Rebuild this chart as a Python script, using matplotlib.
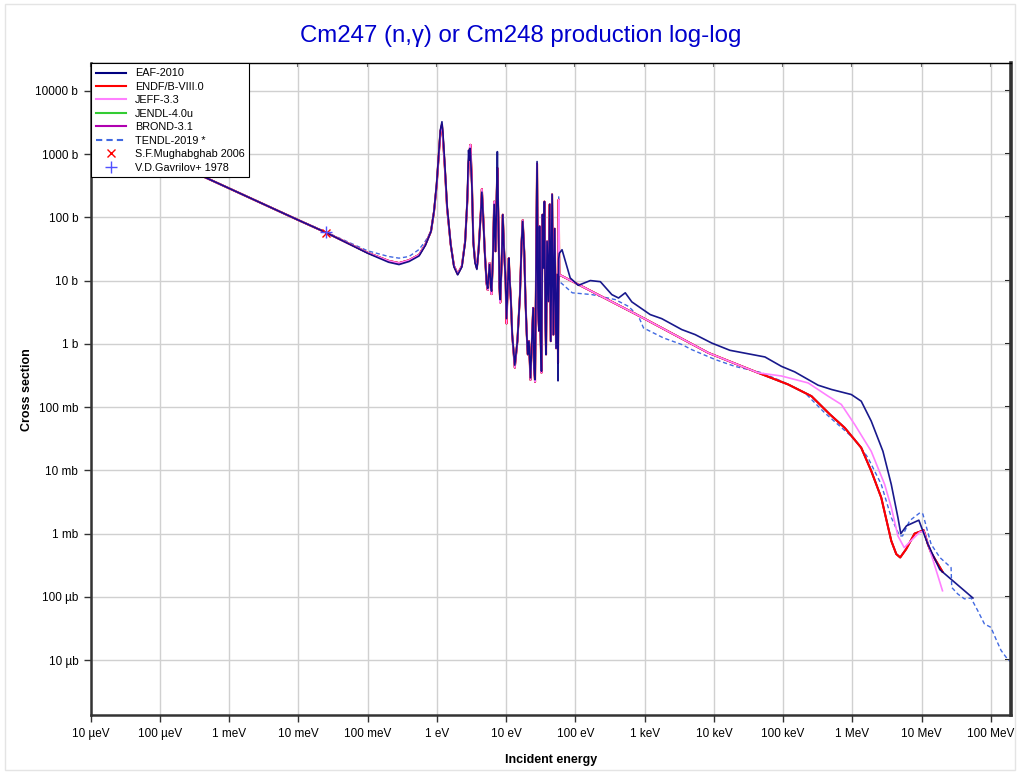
import matplotlib
matplotlib.use('Agg')
import matplotlib.pyplot as plt
import numpy as np

# --- data (energy in eV, cross section in barn) ---

# 1/v region, shared by the evaluations
e_low = [1e-5, 1e-4, 1e-3, 0.01, 0.0253, 0.1, 0.2]
endf_low = [2860, 905, 286, 90, 57, 27.5, 20.5]
eaf_low = [2860, 905, 286, 90, 57, 27, 19.5]

# resolved resonances
e_res = [0.283, 0.395, 0.551, 0.68, 0.82, 0.906, 0.99, 1.07, 1.12, 1.18, 1.22, 1.30, 1.40,
         1.58, 1.76, 1.99, 2.29, 2.55, 2.74, 2.86, 2.93, 3.0, 3.05, 3.2, 3.35, 3.55, 3.77,
         4.0, 4.3, 4.45, 4.6, 4.9, 5.2, 5.4, 5.75, 6.0, 6.14, 6.4, 6.7, 7.0, 7.25, 7.45,
         7.7, 8.0, 8.2, 8.6, 8.93, 9.23, 9.6, 9.8, 10.1, 10.5, 10.9, 11.2, 11.7, 12.2,
         13.3, 14.5, 15.8, 16.7, 17.3, 18.2, 19.0, 19.8, 20.5, 21.3, 22.4, 23.5, 24.5,
         25.3, 26.1, 27.9, 28.8, 29.8, 30.3, 31.3, 32.3, 33.4, 34.8, 35.6, 36.8, 37.6,
         38.9, 40.7, 42.5, 44.0, 46.0, 48.0, 50.2, 52.5, 55.0, 56.0, 57.3, 58.5]
endf_res = [18.9, 21, 25.5, 37, 60, 123, 325, 1090, 2250, 2900, 1770, 600, 140,
            37, 17, 12.7, 17, 41.5, 177, 700, 1000, 1300, 1400, 325, 41.5, 20, 15.8,
            32, 123, 280, 140, 29, 9, 7.1, 18.9, 7.6, 6.1, 20, 177, 29, 177, 600,
            96, 7.6, 4.5, 20, 110, 37, 15.8, 9.7, 2.1, 7.6, 22.6, 11, 4.7, 1.4,
            0.42, 1.1, 6, 41.5, 90, 29, 4.7, 1.4, 0.68, 1.1, 0.27, 1.1, 3.7,
            0.41, 0.25, 700, 3.7, 1.6, 72, 1.4, 0.35, 110, 15.8, 177, 2.5, 0.68,
            41.5, 4.7, 160, 1.1, 230, 1.4, 66, 0.85, 12.5, 0.5, 190, 12.4]
eaf_res = [17.9, 20, 24.5, 36, 60, 125, 340, 1150, 2400, 3240, 2100, 650, 150,
           37, 16.5, 12.3, 16.5, 40, 190, 1150, 800, 1230, 1000, 300, 40, 19, 15,
           31, 120, 250, 130, 28, 9.5, 7.5, 18, 8, 6.8, 20, 160, 29, 170, 1090,
           96, 7.6, 5, 20, 110, 37, 15.8, 9.7, 2.5, 7.6, 22.6, 11, 4.7, 1.4,
           0.46, 1.1, 6, 41.5, 86, 29, 4.7, 1.4, 0.68, 1.1, 0.29, 1.1, 3.7,
           0.41, 0.27, 760, 3.7, 1.6, 72, 1.4, 0.37, 110, 15.8, 177, 2.5, 0.68,
           41.5, 4.7, 160, 1.1, 230, 1.4, 66, 0.85, 12.5, 0.26, 22, 27]

# fast region
e_endf_hi = [908, 8300, 43600, 1.18e5, 2.56e5, 4.71e5, 7.75e5, 1.34e6, 1.87e6, 2.61e6,
             3.64e6, 4.3e6, 4.9e6, 5.98e6, 7.9e6, 1.07e7, 1.23e7, 1.37e7, 2e7]
endf_hi = [2.63, 0.72, 0.348, 0.228, 0.149, 0.077, 0.047, 0.0228, 9.8e-3, 3.7e-3,
           7.7e-4, 4.75e-4, 4.2e-4, 5.7e-4, 1.0e-3, 1.13e-3, 6.8e-4, 5.0e-4, 2.5e-4]

e_jeff_hi = [9.46e4, 2.29e5, 4.45e5, 6.92e5, 1.08e6, 1.87e6, 2.92e6, 3.64e6, 4.54e6,
             5.6e6, 7e6, 9.3e6, 1.07e7, 1.23e7, 2e7]
jeff_hi = [0.31, 0.241, 0.149, 0.110, 0.053, 0.020, 6.0e-3, 2.6e-3, 9.2e-4,
           6.0e-4, 7.7e-4, 1.05e-3, 1.1e-3, 7.0e-4, 1.25e-4]

e_eaf_hi = [64, 84, 110, 164, 229, 335, 419, 524, 652, 1200, 1763, 3430, 5350, 9270,
            17000, 54500, 94600, 1.47e5, 3.19e5, 4.97e5, 9.64e5, 1.34e6, 1.87e6, 2.76e6,
            3.64e6, 4.54e6, 5.0e6, 6.05e6, 9.1e6, 1.23e7, 1.83e7, 5.5e7]
eaf_hi = [30.7, 11, 8.4, 10, 9.6, 6, 5.3, 6.4, 4.6, 2.9, 2.5, 1.68, 1.40, 1.03,
          0.79, 0.62, 0.44, 0.36, 0.222, 0.19, 0.158, 0.124, 0.060, 0.020,
          6.0e-3, 1.8e-3, 1.0e-3, 1.33e-3, 1.63e-3, 6.8e-4, 2.7e-4, 9.6e-5]

e_tendl_low = [1e-5, 1e-4, 1e-3, 0.01, 0.0253, 0.1, 0.2, 0.283, 0.395, 0.551, 0.68]
tendl_low = [2860, 905, 286, 91, 58, 29.5, 24, 22.6, 24, 31, 42]
e_tendl_hi = [57.3, 58.5, 90, 173, 376, 585, 815, 962, 1866, 3430, 4770, 1.04e4, 2.01e4,
              4.87e4, 9.46e4, 2.06e5, 3.99e5, 6.2e5, 1.08e6, 1.68e6, 2.61e6, 3.64e6,
              4.8e6, 5.3e6, 6.7e6, 9.5e6, 1.04e7, 1.37e7, 1.83e7, 2.66e7, 2.72e7,
              3.33e7, 4.15e7, 5.16e7, 6.46e7, 8.06e7, 1.0e8, 1.18e8, 1.4e8, 1.65e8, 2e8]
tendl_hi = [210, 9.7, 6.4, 6, 5.0, 3.9, 2.72, 1.78, 1.24, 0.975, 0.81, 0.565, 0.44,
            0.35, 0.257, 0.168, 0.081, 0.053, 0.031, 0.0158, 6e-3, 1.8e-3,
            9.2e-4, 9.2e-4, 1.6e-3, 2.15e-3, 2.05e-3, 6.8e-4, 4.2e-4, 2.9e-4, 1.41e-4,
            1.11e-4, 9.3e-5, 9.6e-5, 6.05e-5, 3.74e-5, 3.3e-5, 2.17e-5, 1.43e-5, 1.12e-5, 9e-6]

# thermal point data
mugh_e, mugh_xs = [0.0253], [57]
gavr_e, gavr_xs = [0.0253], [58]

x_ticks = [1e-5, 1e-4, 1e-3, 1e-2, 1e-1, 1, 10, 100, 1e3, 1e4, 1e5, 1e6, 1e7, 1e8]
x_labels = ['10 µeV', '100 µeV', '1 meV', '10 meV', '100 meV', '1 eV', '10 eV', '100 eV',
            '1 keV', '10 keV', '100 keV', '1 MeV', '10 MeV', '100 MeV']
y_ticks = [1e-5, 1e-4, 1e-3, 1e-2, 1e-1, 1, 10, 100, 1000, 10000]
y_labels = ['10 µb', '100 µb', '1 mb', '10 mb', '100 mb', '1 b', '10 b', '100 b',
            '1000 b', '10000 b']


def main():
    plt.rcParams['font.family'] = ['Liberation Sans', 'DejaVu Sans']

    # evaluated curves built from the pieces above
    e_endf = np.concatenate([e_low, e_res, e_endf_hi])
    xs_endf = np.concatenate([endf_low, endf_res, endf_hi])
    keep = e_endf < 5e4
    e_jeff = np.concatenate([e_endf[keep], e_jeff_hi])
    xs_jeff = np.concatenate([xs_endf[keep], jeff_hi])
    e_eaf = np.concatenate([e_low, e_res, e_eaf_hi])
    xs_eaf = np.concatenate([eaf_low, eaf_res, eaf_hi])
    mid = (np.array(e_res) > 0.75)
    e_tendl = np.concatenate([e_tendl_low, np.array(e_res)[mid][:-2], e_tendl_hi])
    xs_tendl = np.concatenate([tendl_low, np.array(endf_res)[mid][:-2], tendl_hi])

    fig = plt.figure(figsize=(10.2, 7.74), dpi=100)
    ax = fig.add_axes([0.089, 0.076, 0.902, 0.842])

    ax.plot(e_endf, xs_endf, color='#33cc33', lw=1.3, zorder=2)   # JENDL-4.0u
    ax.plot(e_endf, xs_endf, color='#b000b0', lw=1.3, zorder=2)   # BROND-3.1
    ax.plot(e_tendl, xs_tendl, color='#4169e1', lw=1.0, ls=(0, (3, 2)), zorder=2.5)
    ax.plot(e_endf, xs_endf, color='red', lw=1.5, zorder=3)
    ax.plot(e_jeff, xs_jeff, color='#ff80ff', lw=1.2, zorder=3)
    ax.plot(e_eaf, xs_eaf, color='#000080', lw=1.2, alpha=0.9, zorder=4)
    ax.plot(mugh_e, mugh_xs, 'x', color='red', ms=6, mew=1, zorder=6)
    ax.plot(gavr_e, gavr_xs, '+', color='#5050ff', ms=8, mew=1, zorder=6)

    ax.set_xscale('log')
    ax.set_yscale('log')
    ax.set_xlim(1e-5, 1.94e8)
    ax.set_ylim(1.35e-6, 2.7e4)
    ax.set_xticks(x_ticks)
    ax.set_xticklabels(x_labels, fontsize=8.5)
    ax.set_yticks(y_ticks)
    ax.set_yticklabels(y_labels, fontsize=8.5)
    ax.minorticks_off()
    ax.tick_params(which='major', direction='out', length=5, width=1, color='#333333', pad=4)
    ax.grid(True, color='#d0d0d0', lw=1)
    ax.set_axisbelow(True)
    ax.spines['left'].set(color='#333333', linewidth=1.8)
    ax.spines['bottom'].set(color='#333333', linewidth=1.8)
    ax.spines['right'].set(color='#333333', linewidth=2.6)
    ax.spines['top'].set(color='black', linewidth=1.0)

    # short inward ticks on the top and right edges
    top = ax.secondary_xaxis('top')
    top.set_xticks(x_ticks)
    top.set_xticklabels([])
    top.tick_params(direction='in', length=3, width=1.5, color='#555555')
    top.spines['top'].set_visible(False)
    right = ax.secondary_yaxis('right')
    right.set_yticks(y_ticks)
    right.set_yticklabels([])
    right.tick_params(direction='in', length=4, width=1.5, color='black')
    right.spines['right'].set_visible(False)
    for a in (top, right):
        a.minorticks_off()

    ax.set_xlabel('Incident energy', fontsize=9, fontweight='bold', labelpad=10)
    ax.set_ylabel('Cross section', fontsize=9, fontweight='bold', labelpad=2)
    fig.suptitle('Cm247 (n,\u03b3) or Cm248 production log-log', x=0.51, y=0.968,
                 fontsize=17.3, color='#0000cc')

    names = ['EAF-2010', 'ENDF/B-VIII.0', 'JEFF-3.3', 'JENDL-4.0u', 'BROND-3.1',
             'TENDL-2019 *', 'S.F.Mughabghab 2006', 'V.D.Gavrilov+ 1978']
    handles = [
        plt.Line2D([], [], color='#000080', lw=1.5),
        plt.Line2D([], [], color='red', lw=1.5),
        plt.Line2D([], [], color='#ff80ff', lw=1.5),
        plt.Line2D([], [], color='#33cc33', lw=1.5),
        plt.Line2D([], [], color='#b000b0', lw=1.5),
        plt.Line2D([], [], color='#4169e1', lw=1.5, ls=(0, (3, 2))),
        plt.Line2D([], [], color='red', marker='x', ls='', ms=6),
        plt.Line2D([], [], color='#5050ff', marker='+', ls='', ms=8),
    ]
    leg = ax.legend(handles, names, loc='upper left', borderaxespad=0, fontsize=7.8,
                    handlelength=2.8, fancybox=False, framealpha=1, edgecolor='black',
                    labelspacing=0.32, borderpad=0.45)
    leg.get_frame().set_linewidth(0.8)
    leg.set_zorder(10)

    fig.patches.append(plt.Rectangle((0.005, 0.005), 0.99, 0.99, transform=fig.transFigure,
                                     fill=False, edgecolor='#e4e4e4', lw=1))

    fig.savefig('out.png', dpi=100)


if __name__ == '__main__':
    main()
